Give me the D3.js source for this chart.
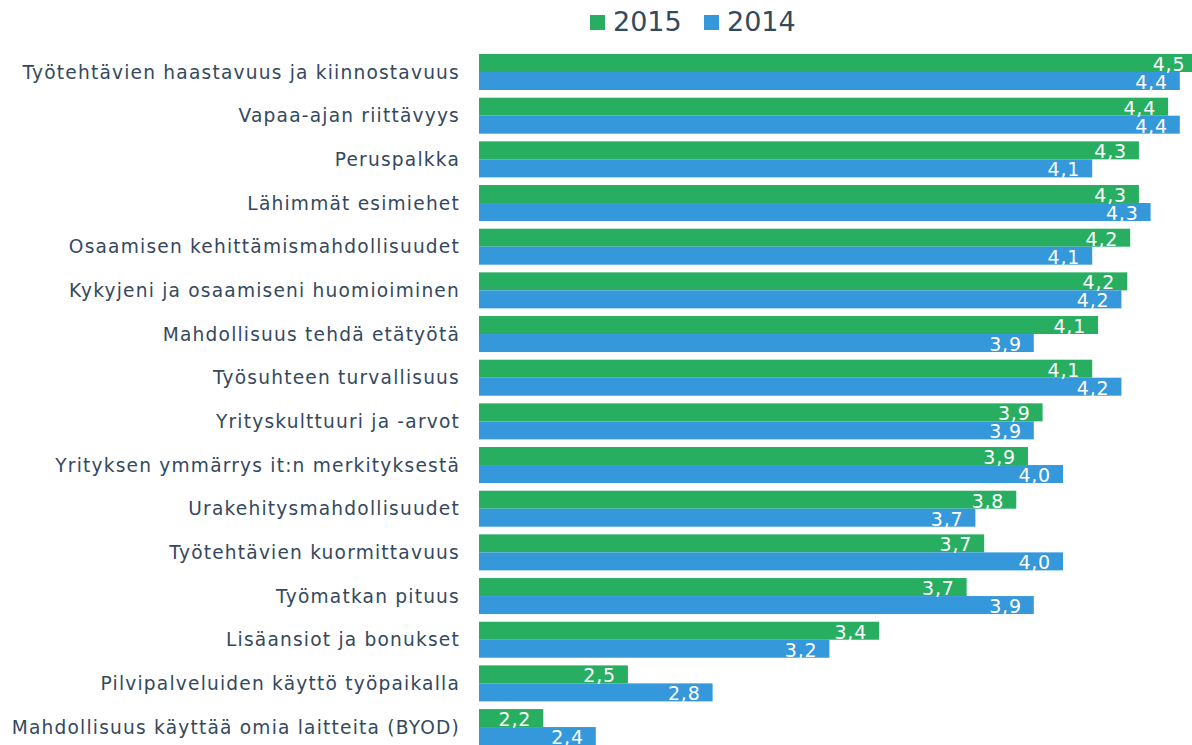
<!DOCTYPE html>
<html>
<head>
<meta charset="utf-8">
<script src="https://cdn.jsdelivr.net/npm/d3@7"></script>
<style>
  html, body { margin: 0; padding: 0; background: #fff; }
  svg { display: block; font-family: "DejaVu Sans", Verdana, sans-serif; }
</style>
</head>
<body>
<svg id="chart" width="1192" height="745"></svg>
<script>
const categories = [
  "Työtehtävien haastavuus ja kiinnostavuus",
  "Vapaa-ajan riittävyys",
  "Peruspalkka",
  "Lähimmät esimiehet",
  "Osaamisen kehittämismahdollisuudet",
  "Kykyjeni ja osaamiseni huomioiminen",
  "Mahdollisuus tehdä etätyötä",
  "Työsuhteen turvallisuus",
  "Yrityskulttuuri ja -arvot",
  "Yrityksen ymmärrys it:n merkityksestä",
  "Urakehitysmahdollisuudet",
  "Työtehtävien kuormittavuus",
  "Työmatkan pituus",
  "Lisäansiot ja bonukset",
  "Pilvipalveluiden käyttö työpaikalla",
  "Mahdollisuus käyttää omia laitteita (BYOD)"
];
const seriesNames = ["2015", "2014"];
const values2015 = [4.46, 4.36, 4.26, 4.26, 4.23, 4.22, 4.12, 4.10, 3.93, 3.88, 3.84, 3.73, 3.67, 3.37, 2.51, 2.22];
const values2014 = [4.40, 4.40, 4.10, 4.30, 4.10, 4.20, 3.90, 4.20, 3.90, 4.00, 3.70, 4.00, 3.90, 3.20, 2.80, 2.40];
const axisDomain = [2, 4.5];

const seriesColors = ["#27ae60", "#3498db"];
const textColor = "#34495e";

const svg = d3.select("#chart");

const x = d3.scaleLinear().domain(axisDomain).range([479, 1209]);
const y = d3.scaleBand().domain(categories).range([50.17, 748.9]).paddingInner(0.176).paddingOuter(0.088);
const ySub = d3.scaleBand().domain(seriesNames).range([0, y.bandwidth()]);

const fi = d3.formatLocale({decimal: ",", thousands: " ", grouping: [3], currency: ["", "€"]});
const fmt = fi.format(".1f");

const rows = categories.map((c, i) => ({cat: c, vals: [values2015[i], values2014[i]]}));

const g = svg.append("g");
const groups = g.selectAll("g.row").data(rows).join("g")
  .attr("class", "row")
  .attr("transform", d => `translate(0,${y(d.cat)})`);

groups.selectAll("rect").data(d => d.vals.map((v, j) => ({v, s: seriesNames[j], j}))).join("rect")
  .attr("x", x(axisDomain[0]))
  .attr("y", d => ySub(d.s))
  .attr("width", d => x(d.v) - x(axisDomain[0]))
  .attr("height", ySub.bandwidth())
  .attr("fill", d => seriesColors[d.j]);

groups.selectAll("text.val").data(d => d.vals.map((v, j) => ({v, s: seriesNames[j], j}))).join("text")
  .attr("class", "val")
  .attr("x", d => x(d.v) - 12)
  .attr("y", d => ySub(d.s) + ySub.bandwidth() - 1)
  .attr("text-anchor", "end")
  .attr("fill", "#fff")
  .attr("font-size", 19)
  .attr("letter-spacing", 0.8)
  .text(d => fmt(d.v));

// category labels
const yAxis = d3.axisLeft(y).tickSize(0).tickPadding(0);
const ax = svg.append("g").attr("transform", "translate(460,0)").call(yAxis);
ax.select(".domain").remove();
ax.selectAll("text")
  .attr("font-size", 18.6)
  .attr("font-family", "DejaVu Sans, Verdana, sans-serif")
  .attr("letter-spacing", 1.2)
  .attr("fill", textColor)
  .attr("dy", "0.35em");

// legend
const legendX = [590, 704];
const leg = svg.append("g");
seriesNames.forEach((s, j) => {
  leg.append("rect").attr("x", legendX[j]).attr("y", 15).attr("width", 15).attr("height", 15).attr("fill", seriesColors[j]);
  leg.append("text").attr("x", legendX[j] + 23).attr("y", 31).attr("font-size", 27).attr("fill", textColor).text(s);
});
</script>
</body>
</html>
